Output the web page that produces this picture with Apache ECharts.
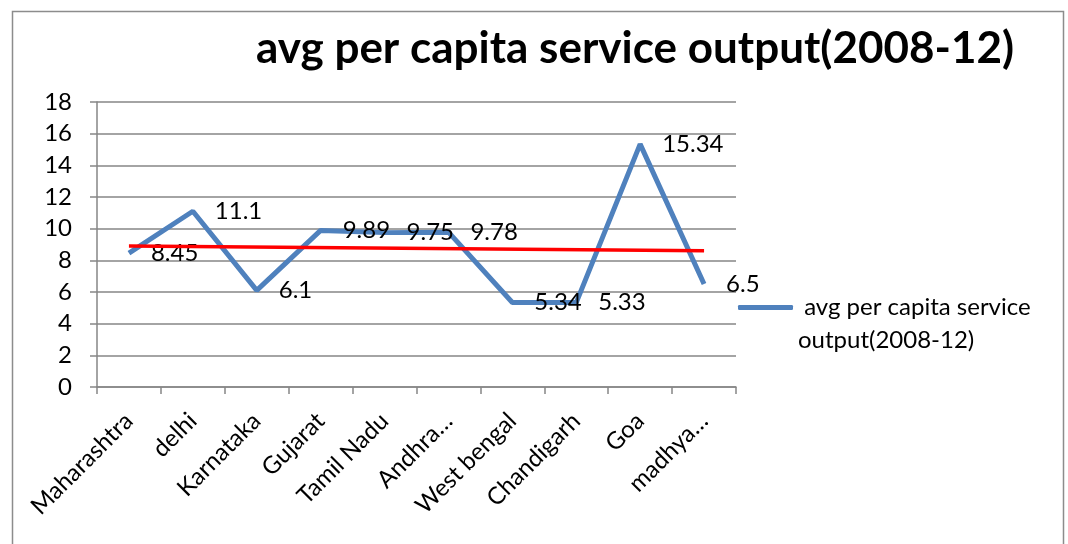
<!DOCTYPE html>
<html>
<head>
<meta charset="utf-8">
<script src="https://cdn.jsdelivr.net/npm/echarts@6/dist/echarts.min.js"></script>
<style>
  html, body { margin: 0; padding: 0; background: #fff; }
  #chart { width: 1068px; height: 544px; }
</style>
</head>
<body>
<div id="chart"></div>
<script>
// Average per capita service output by state, 2008-12
const seriesName = 'avg per capita service output(2008-12)';
const states = ['Maharashtra', 'delhi', 'Karnataka', 'Gujarat', 'Tamil Nadu',
                'Andhra…', 'West bengal', 'Chandigarh', 'Goa', 'madhya…'];
const serviceOutput = [8.45, 11.1, 6.1, 9.89, 9.75, 9.78, 5.34, 5.33, 15.34, 6.5];
// linear trend line: value at the first and the last state
const trendEnds = [8.9, 8.61];

const FONT = 'Lato, "Open Sans", sans-serif';
const FONT_SIZE = 24;
const GRID_GRAY = '#868686';

const chart = echarts.init(document.getElementById('chart'), null, { renderer: 'canvas' });

chart.setOption({
  animation: false,
  backgroundColor: '#fff',
  graphic: [{
    type: 'rect',
    shape: { x: 12.5, y: 11.5, width: 1051, height: 545 },
    style: { fill: 'none', stroke: '#8c8c8c', lineWidth: 1.5 },
    silent: true
  }],
  title: {
    text: seriesName,
    left: 251,
    top: 22,
    textStyle: { fontFamily: FONT, fontWeight: 'bold', fontSize: 44, color: '#000' }
  },
  legend: {
    data: [seriesName],
    left: 738,
    top: 258,
    padding: 0,
    icon: 'roundRect',
    itemWidth: 55,
    itemHeight: 5,
    // blank first row keeps the line marker level with the first text row
    formatter: () => '\n avg per capita service\noutput(2008-12)',
    textStyle: { fontFamily: FONT, fontSize: FONT_SIZE, color: '#000', lineHeight: 33 }
  },
  grid: { left: 97, right: 332, top: 102, bottom: 157, containLabel: false },
  xAxis: {
    type: 'category',
    data: states,
    boundaryGap: true,
    axisLine: { show: true, lineStyle: { color: GRID_GRAY, width: 1.5 } },
    axisTick: { show: true, length: 7, interval: 0, lineStyle: { color: GRID_GRAY, width: 1.5 } },
    axisLabel: {
      interval: 0, rotate: 45, margin: 30,
      fontFamily: FONT, fontSize: FONT_SIZE, color: '#000'
    },
    splitLine: { show: false }
  },
  yAxis: {
    type: 'value',
    min: 0, max: 18, interval: 2,
    axisLine: { show: true, lineStyle: { color: GRID_GRAY, width: 1.5 } },
    axisTick: { show: true, length: 7, lineStyle: { color: GRID_GRAY, width: 1.5 } },
    axisLabel: { margin: 25, fontFamily: FONT, fontSize: FONT_SIZE, color: '#000' },
    splitLine: { show: true, lineStyle: { color: GRID_GRAY, width: 1.5 } }
  },
  series: [{
    name: seriesName,
    type: 'line',
    data: serviceOutput,
    symbol: 'circle',
    symbolSize: 0,
    showSymbol: true,
    color: '#4F81BD',
    lineStyle: { color: '#4F81BD', width: 5 },
    itemStyle: { color: '#4F81BD' },
    label: {
      show: true, position: 'right', distance: 22,
      fontFamily: FONT, fontSize: FONT_SIZE, color: '#000'
    },
    labelLayout: { hideOverlap: false },
    z: 2
  }, {
    name: 'trend',
    type: 'line',
    data: [[states[0], trendEnds[0]], [states[states.length - 1], trendEnds[1]]],
    symbol: 'none',
    lineStyle: { color: '#FF0000', width: 3.5 },
    itemStyle: { color: '#FF0000' },
    silent: true,
    z: 3
  }]
});
</script>
</body>
</html>
